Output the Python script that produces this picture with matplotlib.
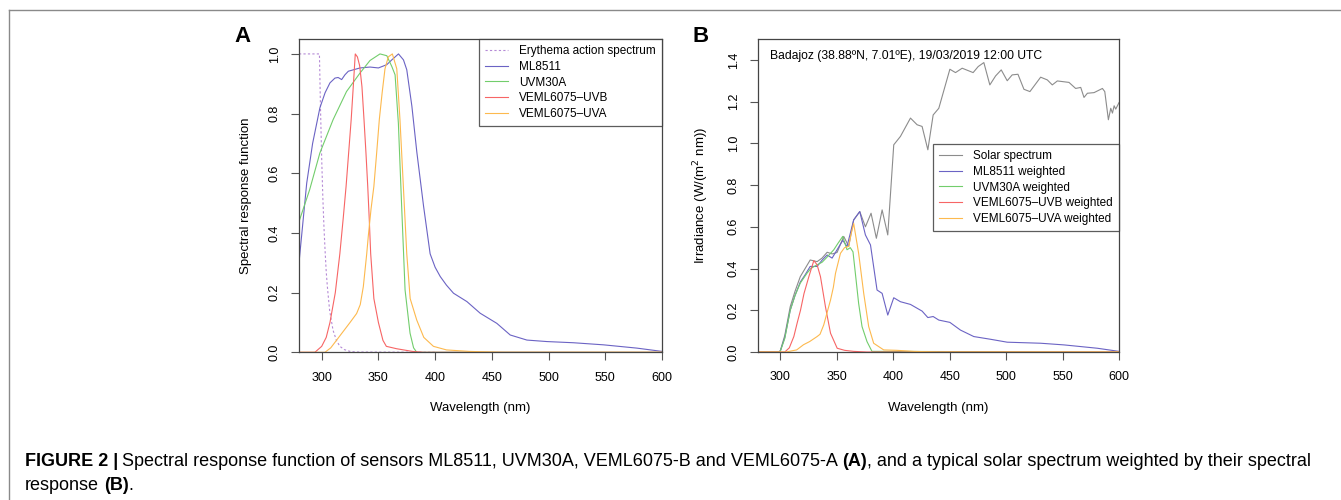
import matplotlib
matplotlib.use('Agg')
import matplotlib.pyplot as plt
from matplotlib.lines import Line2D

plt.rcParams['font.family'] = ['Liberation Sans', 'DejaVu Sans']

# panel A: spectral response functions
ery_wl = [280, 298, 299, 300, 301, 302, 303, 304, 305, 307, 310, 313, 316, 320, 325, 330, 400]
ery_val = [1.0, 1.0, 0.81, 0.65, 0.52, 0.42, 0.34, 0.27, 0.22, 0.14, 0.074, 0.04, 0.02, 0.009, 0.003, 0.001, 0.0]

ml_wl = [280, 286.8, 292, 298.4, 303, 307.3, 311.7, 314.5, 317.6, 320.5, 323.5, 333.8, 342.6, 350, 357.4, 361.8,
         367.7, 372.1, 375, 379.5, 383.9, 389.8, 395.6, 400, 404.5, 410, 416.2, 428, 439.7, 454.4, 466.2, 480.9,
         498.5, 522, 548.5, 577.9, 600]
ml_val = [0.30, 0.567, 0.70, 0.819, 0.87, 0.903, 0.919, 0.921, 0.914, 0.93, 0.942, 0.953, 0.956, 0.953, 0.964, 0.98,
          1.0, 0.98, 0.947, 0.825, 0.67, 0.49, 0.33, 0.285, 0.254, 0.225, 0.198, 0.17, 0.131, 0.097, 0.058, 0.041,
          0.036, 0.032, 0.025, 0.014, 0.003]

uvm_wl = [280, 289.4, 298.4, 310.1, 321.9, 333.8, 342.6, 351.4, 357.4, 361.8, 364.7, 367.6, 370.5, 373.5, 377.9,
          381, 383.8, 600]
uvm_val = [0.438, 0.545, 0.668, 0.78, 0.874, 0.936, 0.978, 1.0, 0.994, 0.958, 0.93, 0.768, 0.489, 0.209, 0.064,
           0.015, 0.0, 0.0]

vb_wl = [280, 294, 300, 304, 307.3, 312, 316, 319, 321.5, 324, 326, 328, 329.6, 331.5, 333.5, 335.5, 337.3, 339,
         340.6, 342, 343.2, 346, 350, 354, 357, 366, 380, 390, 600]
vb_val = [0.0, 0.0, 0.02, 0.05, 0.1, 0.2, 0.33, 0.45, 0.556, 0.68, 0.78, 0.9, 1.0, 0.99, 0.96, 0.89, 0.78, 0.67,
          0.556, 0.44, 0.33, 0.18, 0.1, 0.04, 0.02, 0.012, 0.003, 0.0, 0.0]

va_wl = [280, 302.9, 308, 313.2, 320, 325, 330.8, 334, 336.7, 339.7, 341.1, 343.5, 346, 348.5, 350.8, 353.3, 355.8,
         358.7, 362.3, 366.2, 369, 372, 375, 378, 383.8, 390, 398.5, 410, 430, 460, 600]
va_val = [0.0, 0.0, 0.015, 0.041, 0.075, 0.1, 0.13, 0.16, 0.22, 0.33, 0.39, 0.48, 0.556, 0.67, 0.78, 0.87, 0.95,
          0.99, 1.0, 0.95, 0.78, 0.556, 0.33, 0.18, 0.108, 0.05, 0.02, 0.008, 0.003, 0.0, 0.0]

# panel B: solar spectrum and weighted spectra
sol_wl = [280, 298, 300, 304, 308.8, 313, 317.7, 322, 326.5, 332.6, 337, 341.5, 346, 350.3, 356.2, 360.6, 365,
          370.4, 375.4, 380.4, 385.1, 390.2, 395.2, 400.5, 406.4, 415.3, 421.2, 425.6, 430.7, 435.4, 440.4, 450.2,
          455.2, 461.1, 470.8, 475.3, 480.3, 485.6, 490.7, 495.7, 501, 505.4, 510.5, 515.8, 521.1, 530.6, 536.5,
          540.9, 545.4, 555.7, 561.6, 566.1, 569, 572, 577.9, 585.3, 587.4, 590.6, 592.7, 594.2, 595.7, 597.1, 600]
sol_val = [0.0, 0.0, 0.005, 0.08, 0.217, 0.29, 0.361, 0.40, 0.441, 0.433, 0.45, 0.478, 0.47, 0.477, 0.554, 0.506,
           0.633, 0.673, 0.6, 0.665, 0.545, 0.681, 0.561, 0.993, 1.033, 1.121, 1.089, 1.081, 0.969, 1.136, 1.168,
           1.355, 1.339, 1.36, 1.339, 1.368, 1.387, 1.28, 1.323, 1.352, 1.3, 1.328, 1.331, 1.259, 1.248, 1.317,
           1.304, 1.28, 1.299, 1.292, 1.263, 1.268, 1.22, 1.24, 1.243, 1.263, 1.248, 1.113, 1.168, 1.145, 1.18,
           1.164, 1.195]

mlw_wl = [280, 298, 300, 304, 308.8, 313, 317.7, 322, 326.5, 332.6, 337, 341.5, 345.9, 350.3, 355.3, 359.1, 365,
          370.4, 375.4, 379.9, 385.7, 390.2, 395.2, 400.5, 406.4, 415.3, 425.6, 430.7, 435.4, 440.4, 450.2, 459.6,
          471.4, 486.2, 501, 530.6, 551.3, 580.8, 600]
mlw_val = [0.0, 0.0, 0.004, 0.07, 0.2, 0.27, 0.335, 0.37, 0.41, 0.41, 0.44, 0.465, 0.45, 0.49, 0.535, 0.506, 0.633,
           0.673, 0.561, 0.513, 0.297, 0.281, 0.177, 0.26, 0.241, 0.228, 0.196, 0.165, 0.17, 0.153, 0.142, 0.105,
           0.074, 0.061, 0.047, 0.042, 0.034, 0.018, 0.003]

uvw_wl = [280, 298, 300, 304, 308.8, 313, 317.7, 323.6, 327, 332.6, 337, 341.5, 347.4, 351, 355.3, 359.1, 362,
          364.4, 366.5, 369.4, 372.4, 376.8, 381.2, 600]
uvw_val = [0.0, 0.0, 0.004, 0.065, 0.2, 0.27, 0.33, 0.377, 0.40, 0.418, 0.43, 0.455, 0.49, 0.52, 0.554, 0.49, 0.5,
           0.48, 0.377, 0.233, 0.122, 0.05, 0.003, 0.0]

vbw_wl = [280, 304, 308, 312, 315, 317.9, 321, 325.3, 329.7, 332.6, 335.6, 340, 344.5, 350.4, 357, 365, 376.8, 600]
vbw_val = [0.0, 0.0, 0.02, 0.074, 0.14, 0.2, 0.28, 0.361, 0.438, 0.418, 0.361, 0.217, 0.09, 0.018, 0.008, 0.003,
           0.0, 0.0]

vaw_wl = [280, 305, 314.5, 320.6, 326, 332.6, 335.2, 338.5, 341.5, 344.5, 347, 348.9, 353.3, 356.9, 360.6, 362.5,
          365, 369.4, 373.9, 378.3, 382.7, 391.6, 403.4, 418.2, 440, 600]
vaw_val = [0.0, 0.0, 0.01, 0.035, 0.05, 0.074, 0.085, 0.13, 0.19, 0.249, 0.31, 0.377, 0.473, 0.5, 0.506, 0.56,
           0.616, 0.473, 0.281, 0.122, 0.042, 0.01, 0.008, 0.003, 0.0, 0.0]

c_ery = '#b58ad6'
c_ml = '#6b63c4'
c_uvm = '#72cd6c'
c_vb = '#f76565'
c_va = '#fdb94e'
c_sol = '#8c8c8c'

W, H = 1341, 500
fig = plt.figure(figsize=(W / 100, H / 100), dpi=100)


def px_axes(l, r, t, b):
    return fig.add_axes([l / W, 1 - b / H, (r - l) / W, (b - t) / H])


def style(ax, ylim, yticks):
    ax.set_xlim(280, 600)
    ax.set_ylim(*ylim)
    ax.set_xticks(range(300, 601, 50))
    ax.set_yticks(yticks)
    ax.set_yticklabels(['%.1f' % v for v in yticks], rotation=90, va='center')
    for s in ax.spines.values():
        s.set_color('#444444')
        s.set_linewidth(0.9)
    ax.tick_params(direction='out', length=6, width=0.8, color='#555555', labelsize=9)
    ax.tick_params(axis='x', pad=8)
    ax.tick_params(axis='y', pad=7)
    ax.set_xlabel('Wavelength (nm)', fontsize=9.5, labelpad=13)


def legend(ax, **kw):
    leg = ax.legend(loc='upper right', borderaxespad=0, fancybox=False, fontsize=8.5, handlelength=1.9,
                    labelspacing=0.3, handletextpad=0.95, borderpad=0.55, **kw)
    leg.get_frame().set_edgecolor('#333333')
    leg.get_frame().set_linewidth(0.9)


lw = 0.8

# ---- panel A
axA = px_axes(299, 662, 39, 352.3)
axA.plot(ery_wl, ery_val, color=c_ery, lw=lw, ls=(0, (2.0, 2.0)), label='Erythema action spectrum')
axA.plot(ml_wl, ml_val, color=c_ml, lw=lw, label='ML8511')
axA.plot(uvm_wl, uvm_val, color=c_uvm, lw=lw, label='UVM30A')
axA.plot(vb_wl, vb_val, color=c_vb, lw=lw, label='VEML6075\u2013UVB')
axA.plot(va_wl, va_val, color=c_va, lw=lw, label='VEML6075\u2013UVA')
style(axA, (0, 1.05), [0.0, 0.2, 0.4, 0.6, 0.8, 1.0])
axA.set_ylabel('Spectral response function', fontsize=9.5, labelpad=12)
legend(axA)

# ---- panel B
axB = px_axes(757.7, 1119, 39, 352)
axB.plot(sol_wl, sol_val, color=c_sol, lw=lw, label='Solar spectrum')
axB.plot(mlw_wl, mlw_val, color=c_ml, lw=lw, label='ML8511 weighted')
axB.plot(uvw_wl, uvw_val, color=c_uvm, lw=lw, label='UVM30A weighted')
axB.plot(vbw_wl, vbw_val, color=c_vb, lw=lw, label='VEML6075\u2013UVB weighted')
axB.plot(vaw_wl, vaw_val, color=c_va, lw=lw, label='VEML6075\u2013UVA weighted')
style(axB, (0, 1.5), [0.0, 0.2, 0.4, 0.6, 0.8, 1.0, 1.2, 1.4])
axB.set_ylabel('Irradiance (W/(m$^2$ nm))', fontsize=9.5, labelpad=12)
axB.text(0.035, 0.965, 'Badajoz (38.88\u00baN, 7.01\u00baE), 19/03/2019 12:00 UTC', transform=axB.transAxes,
         fontsize=8.7, ha='left', va='top')
legend(axB, bbox_to_anchor=(1.0, (352 - 144) / (352 - 39)))

# panel letters
fig.text(243 / W, 1 - 36 / H, 'A', fontsize=16, weight='bold', ha='center', va='center')
fig.text(701 / W, 1 - 36 / H, 'B', fontsize=16, weight='bold', ha='center', va='center')

# frame lines
fig.add_artist(Line2D([9 / W, 9 / W], [0, 1 - 10 / H], transform=fig.transFigure, color='#8a8a8a', lw=1))
fig.add_artist(Line2D([9 / W, 1], [1 - 10 / H, 1 - 10 / H], transform=fig.transFigure, color='#8a8a8a', lw=1))

# caption
line1 = [('FIGURE 2 |', 'bold'),
         ('Spectral response function of sensors ML8511, UVM30A, VEML6075-B and VEML6075-A', 'normal'),
         ('(A)', 'bold'),
         (', and a typical solar spectrum weighted by their spectral', 'normal')]
line2 = [('response', 'normal'), ('(B)', 'bold'), ('.', 'normal')]
gaps1 = [4, 4, 0]
gaps2 = [5, 0]

renderer = fig.canvas.get_renderer()


def place(chunks, gaps, x0, ypx, size):
    x = x0
    for i, (txt, wt) in enumerate(chunks):
        t = fig.text(x / W, 1 - ypx / H, txt, fontsize=size, weight=wt, ha='left', va='center')
        bb = t.get_window_extent(renderer)
        x = bb.x1 + (gaps[i] if i < len(gaps) else 0)
    return x


size = 10.0
test = place(line1, gaps1, 25, 461, size)
for t in list(fig.texts[-len(line1):]):
    t.remove()
size = size * (1316 - 25) / (test - 25)
place(line1, gaps1, 25, 461, size)
place(line2, gaps2, 25, 485, size)

fig.savefig('out.png', dpi=100)
